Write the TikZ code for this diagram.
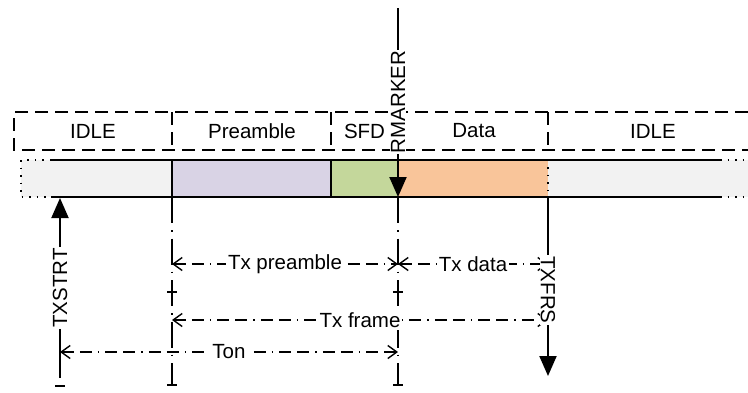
\documentclass[tikz,border=0pt]{standalone}
\usepackage{fontspec}
\setmainfont{Liberation Sans}
\usetikzlibrary{arrows.meta}
\definecolor{idlegray}{HTML}{F2F2F2}
\definecolor{prefill}{HTML}{D9D3E5}
\definecolor{sfdfill}{HTML}{C4D79B}
\definecolor{datafill}{HTML}{F9C59A}
\begin{document}
\begin{tikzpicture}[x=1pt,y=-1pt,
  font=\fontsize{20.5}{24}\selectfont,
  hdr/.style={draw=none,inner sep=0pt},
  boxdash/.style={line width=1.8pt,dash pattern=on 13pt off 7pt},
  seg/.style={inner sep=0pt,minimum height=37pt,anchor=west},
  barline/.style={line width=1.6pt},
  bardot/.style={line width=1.6pt,dash pattern=on 1.5pt off 6pt},
  extline/.style={line width=1.4pt,dash pattern=on 26pt off 7pt on 1.5pt off 7pt},
  dimline/.style={line width=1.4pt,dash pattern=on 12pt off 6pt on 12pt off 6pt on 1.5pt off 6pt,
     {Straight Barb[length=9pt,width=13pt,line width=1.4pt]}-{Straight Barb[length=9pt,width=13pt,line width=1.4pt]}},
  lbl/.style={fill=white,inner sep=2pt},
  sig/.style={fill=white,inner sep=1pt},
  sigline/.style={line width=2pt},
  sigarrow/.style={line width=2pt,-{Triangle[length=20pt,width=17pt]}},
  tick/.style={line width=1.4pt}]
\useasboundingbox (0,0) rectangle (748,392);

% top dashed header
\draw[boxdash] (748,112) -- (14,112) -- (14,150) -- (748,150);
\draw[boxdash] (172,112) -- (172,150);
\draw[boxdash] (331,112) -- (331,150);
\draw[boxdash] (548,112) -- (548,150);
\node[hdr] (hidle1) at (93,131) {IDLE};
\node[hdr] (hpre) at (252,131) {Preamble};
\node[hdr] (hsfd) at (364.5,131) {SFD};
\node[hdr] (hdata) at (474,131) {Data};
\node[hdr] (hidle2) at (653,131) {IDLE};

% bar segments
\node[seg,fill=idlegray,minimum width=151pt] (idle1) at (21,178.5) {};
\node[seg,fill=prefill,minimum width=159pt] (pre) at (172,178.5) {};
\node[seg,fill=sfdfill,minimum width=67pt] (sfd) at (331,178.5) {};
\node[seg,fill=datafill,minimum width=150pt] (data) at (398,178.5) {};
\node[seg,fill=idlegray,minimum width=200pt] (idle2) at (548,178.5) {};
\draw[barline] (51,160) -- (720,160) (51,197) -- (720,197);
\draw[bardot] (51,160) -- (21,160) -- (21,197) -- (51,197);
\draw[bardot] (720,160) -- (748,160) (720,197) -- (748,197);
\draw[barline] (pre.north west) -- (pre.south west);
\draw[barline] (sfd.north west) -- (sfd.south west);
\draw[bardot] (idle2.north west) -- (idle2.south west);

% extension lines
\coordinate (e1b) at (172,385);
\coordinate (e2b) at (398,385);
\draw[extline] (pre.south west) -- (e1b);
\draw[extline] (data.south west) -- (e2b);
\draw[tick] (167,292) -- (177,292) (167,385) -- (177,385);
\draw[tick] (393,292) -- (403,292) (393,385) -- (403,385);
\draw[tick] (55,386) -- (65,386);

% dimension lines
\coordinate (dpA) at (172,264);
\coordinate (dpB) at (398,264);
\coordinate (ddB) at (548,264);
\coordinate (dfA) at (172,320);
\coordinate (dfB) at (548,320);
\coordinate (doA) at (60,352);
\coordinate (doB) at (398,352);
\draw[dimline] (dpA) -- node[lbl] (lpre) {Tx preamble} (dpB);
\draw[dimline] (dpB) -- node[lbl] (ldata) {Tx data} (ddB);
\draw[dimline] (dfA) -- node[lbl] (lframe) {Tx frame} (dfB);
\draw[dimline] (doA) -- node[lbl] (lon) {Ton} (doB);

% RMARKER
\coordinate (rmtop) at (398,8);
\coordinate (rmtip) at (398,197);
\node[sig,rotate=90] (rm) at (398,102) {RMARKER};
\draw[sigline] (rmtop) -- (rm.east);
\draw[sigarrow] (rm.west) -- (rmtip);

% TXSTRT
\coordinate (tstip) at (60,198);
\coordinate (tsbot) at (60,378);
\node[sig,rotate=90] (tst) at (60,288) {TXSTRT};
\draw[sigarrow] (tst.east) -- (tstip);
\draw[sigline] (tst.west) -- (tsbot);

% TXFRS
\coordinate (tftop) at (548,197);
\coordinate (tftip) at (548,376);
\node[sig,rotate=-90] (tfs) at (548,290) {TXFRS};
\draw[sigline] (tftop) -- (tfs.west);
\draw[sigarrow] (tfs.east) -- (tftip);
\end{tikzpicture}
\end{document}
